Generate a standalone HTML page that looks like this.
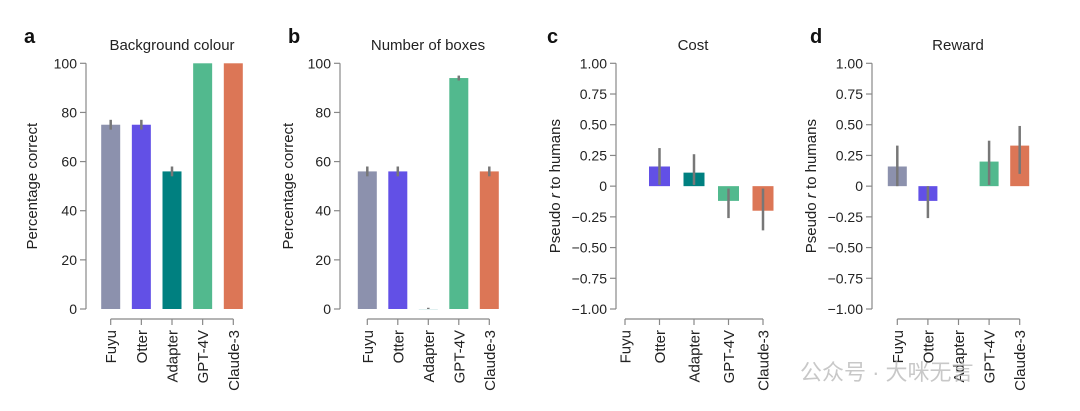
<!DOCTYPE html>
<html><head><meta charset="utf-8"><style>
body{margin:0;background:#fff;}
svg{display:block;font-family:"Liberation Sans","Noto Sans CJK SC",sans-serif;}
</style></head><body>
<svg id="fig" width="1080" height="411" viewBox="0 0 1080 411"></svg>
<script>
const categories=["Fuyu","Otter","Adapter","GPT-4V","Claude-3"];
const colors=["#8c91ad","#6250e6","#008080","#52b98e","#dc7656"];
const bgValues=[75,75,56,100,100];
const bgErrLo=[73,73,54,100,100];
const bgErrHi=[77,77,58,100,100];
const boxValues=[56,56,0,94,56];
const boxErrLo=[54,54,0,93,54];
const boxErrHi=[58,58,0.5,95,58];
const costValues=[0,0.16,0.11,-0.12,-0.2];
const costErrLo=[0,0.01,0.01,-0.26,-0.36];
const costErrHi=[0,0.31,0.26,-0.02,-0.02];
const rewardValues=[0.16,-0.12,0,0.2,0.33];
const rewardErrLo=[0,-0.26,0,0.01,0.1];
const rewardErrHi=[0.33,0,0,0.37,0.49];
const pctTicks=[0,20,40,60,80,100];
const pctTickLabels=["0","20","40","60","80","100"];
const rTicks=[-1,-0.75,-0.5,-0.25,0,0.25,0.5,0.75,1];
const rTickLabels=["\u22121.00","\u22120.75","\u22120.50","\u22120.25","0","0.25","0.50","0.75","1.00"];

const NS="http://www.w3.org/2000/svg";
const svg=document.getElementById('fig');
function mk(tag,attrs,parent,text){const e=document.createElementNS(NS,tag);for(const k in attrs)e.setAttribute(k,attrs[k]);if(text!==undefined)e.textContent=text;(parent||svg).appendChild(e);return e;}

function panel(o){
  const g=mk('g',{});
  
  
  const yTop=63.3,yBot=309;
  const y=v=>yBot-(v-o.min)/(o.max-o.min)*(yBot-yTop);
  const x=i=>o.x0+i*o.step;
  const L=mk('text',{x:o.letterX,y:43,'font-size':20,'font-weight':'bold',fill:'#111'},g,o.letter);
  
  
  const T=mk('text',{x:o.titleX,y:50,'font-size':15,'text-anchor':'middle',fill:'#222'},g,o.title);
  
  
  const ax=mk('line',{x1:o.axisX,x2:o.axisX,y1:yTop,y2:yBot,stroke:'#888','stroke-width':1.2},g);
  
  
  o.ticks.forEach((t,i)=>{
    mk('line',{x1:o.axisX-6,x2:o.axisX,y1:y(t),y2:y(t),stroke:'#888','stroke-width':1.2},g);
    const tl=mk('text',{x:o.axisX-9,y:y(t)+5,'font-size':14,'text-anchor':'end',fill:'#222'},g,o.tickLabels[i]);
    
    
  });
  const yt=mk('text',{transform:`translate(${o.ytX},${(yTop+yBot)/2}) rotate(-90)`,'font-size':15,'text-anchor':'middle',fill:'#222'},g);
  
  
  if(o.italic){mk('tspan',{},yt,'Pseudo ');mk('tspan',{'font-style':'italic'},yt,'r');mk('tspan',{},yt,' to humans');}
  else yt.textContent=o.ytitle;
  const xl=mk('line',{x1:x(0),x2:x(4),y1:319,y2:319,stroke:'#888','stroke-width':1.2},g);
  
  
  categories.forEach((c,i)=>{
    mk('line',{x1:x(i),x2:x(i),y1:319,y2:325,stroke:'#888','stroke-width':1.2},g);
    const lab=mk('text',{transform:`translate(${x(i)+5.5},330) rotate(-90)`,'font-size':15,'text-anchor':'end',fill:'#222'},g,c);
    
    
    const v=o.vals[i];
    if(v!==0||o.showZero){
      const y0=y(Math.max(v,o.base)),y1=y(Math.min(v,o.base));
      const r=mk('rect',{x:x(i)-o.bw/2,y:y0,width:o.bw,height:Math.max(y1-y0,0.8),fill:colors[i],opacity:(v===0?0.15:1)},g);
      
      
    }
    if(o.lo[i]!==o.hi[i]){
      const e=mk('line',{x1:x(i),x2:x(i),y1:y(o.lo[i]),y2:y(o.hi[i]),stroke:'#777','stroke-width':2.5},g);
      
      
    }
  });
}
panel({name:'panel-a-background-colour',letter:'a',letterX:24,title:'Background colour',titleX:172,axisX:86,ytX:37,ytitle:'Percentage correct',min:0,max:100,base:0,ticks:pctTicks,tickLabels:pctTickLabels,x0:110.7,step:30.65,bw:19,vals:bgValues,lo:bgErrLo,hi:bgErrHi});
panel({name:'panel-b-number-of-boxes',letter:'b',letterX:288,title:'Number of boxes',titleX:428,axisX:340,ytX:293,ytitle:'Percentage correct',min:0,max:100,base:0,ticks:pctTicks,tickLabels:pctTickLabels,x0:367.3,step:30.5,bw:19,vals:boxValues,lo:boxErrLo,hi:boxErrHi,showZero:true});
panel({name:'panel-c-cost',letter:'c',letterX:547,title:'Cost',titleX:693,axisX:616,ytX:560,italic:true,min:-1,max:1,base:0,ticks:rTicks,tickLabels:rTickLabels,x0:625,step:34.5,bw:21,vals:costValues,lo:costErrLo,hi:costErrHi});
panel({name:'panel-d-reward',letter:'d',letterX:810,title:'Reward',titleX:958,axisX:872,ytX:816,italic:true,min:-1,max:1,base:0,ticks:rTicks,tickLabels:rTickLabels,x0:897.3,step:30.6,bw:19,vals:rewardValues,lo:rewardErrLo,hi:rewardErrHi});
const wm=mk('text',{x:800,y:380,'font-size':22,fill:'#bbb',opacity:0.8},svg,'公众号 · 大咪无言');


</script>
</body></html>
